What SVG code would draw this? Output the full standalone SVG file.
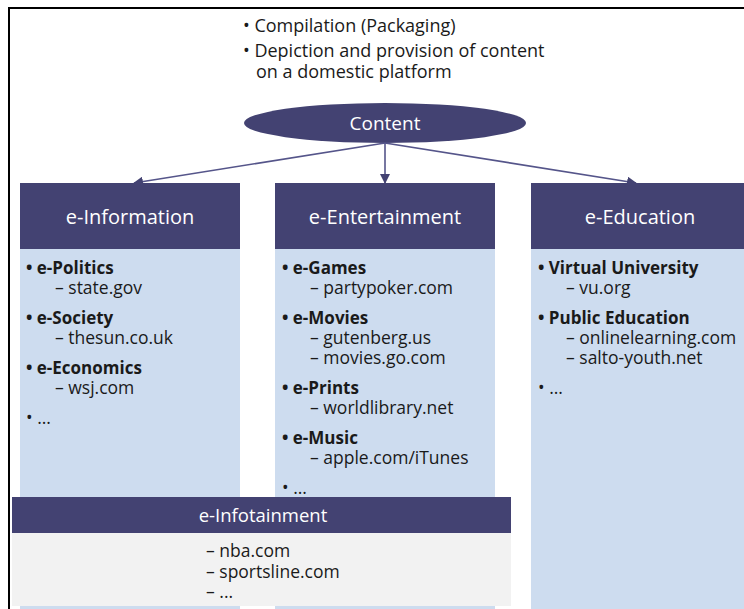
<svg xmlns="http://www.w3.org/2000/svg" width="744" height="609" viewBox="0 0 744 609">
<style>
text{font-family:"Open Sans","Noto Sans","Liberation Sans",sans-serif;fill:#1a1a1a}
.hd{fill:#434272}
.bd{fill:#cddcef}
.ht{fill:#ffffff;font-size:20px;text-anchor:middle}
.b{font-size:17px;font-weight:bold}
.n{font-size:17.5px}
.top{font-size:18px}
.con{stroke:#55558a;stroke-width:1.6;fill:none}
</style>
<defs>
<marker id="ah" viewBox="0 0 10 10" refX="9" refY="5" markerWidth="10" markerHeight="10" orient="auto" markerUnits="userSpaceOnUse">
<path d="M0,0 L10,5 L0,10 z" fill="#434272"/>
</marker>
</defs>
<rect x="0" y="0" width="744" height="609" fill="#ffffff"/>
<rect x="9" y="8" width="800" height="700" fill="none" stroke="#000" stroke-width="2"/>

<g id="notes">
<text class="top" x="243" y="32">• Compilation (Packaging)</text>
<text class="top" x="243" y="57">• Depiction and provision of content</text>
<text class="top" x="256" y="78">on a domestic platform</text>
</g>

<g id="content">
<ellipse cx="385" cy="123" rx="141" ry="20" fill="#434272"/>
<text class="ht" x="385" y="130" style="font-size:19px">Content</text>
</g>

<g id="connectors">
<line class="con" x1="385" y1="143" x2="134" y2="183" marker-end="url(#ah)"/>
<line class="con" x1="385" y1="143" x2="385" y2="183" marker-end="url(#ah)"/>
<line class="con" x1="385" y1="143" x2="636" y2="183" marker-end="url(#ah)"/>
</g>

<g id="e-information">
<rect class="hd" x="20" y="183" width="220" height="66"/>
<rect class="bd" x="20" y="249" width="220" height="360"/>
<text class="ht" x="130" y="224">e-Information</text>
<text class="b" x="26" y="274">• e-Politics</text>
<text class="n" x="55" y="294">– state.gov</text>
<text class="b" x="26" y="324">• e-Society</text>
<text class="n" x="55" y="344">– thesun.co.uk</text>
<text class="b" x="26" y="374">• e-Economics</text>
<text class="n" x="55" y="394">– wsj.com</text>
<text class="n" x="26" y="424">• ...</text>
</g>

<g id="e-entertainment">
<rect class="hd" x="275" y="183" width="220" height="66"/>
<rect class="bd" x="275" y="249" width="220" height="360"/>
<text class="ht" x="385" y="224">e-Entertainment</text>
<text class="b" x="282" y="274">• e-Games</text>
<text class="n" x="310" y="294">– partypoker.com</text>
<text class="b" x="282" y="324">• e-Movies</text>
<text class="n" x="310" y="344">– gutenberg.us</text>
<text class="n" x="310" y="364">– movies.go.com</text>
<text class="b" x="282" y="394">• e-Prints</text>
<text class="n" x="310" y="414">– worldlibrary.net</text>
<text class="b" x="282" y="444">• e-Music</text>
<text class="n" x="310" y="464">– apple.com/iTunes</text>
<text class="n" x="282" y="494">• ...</text>
</g>

<g id="e-education">
<rect class="hd" x="531" y="183" width="220" height="66"/>
<rect class="bd" x="531" y="249" width="220" height="360"/>
<text class="ht" x="640" y="224">e-Education</text>
<text class="b" x="538" y="274">• Virtual University</text>
<text class="n" x="566" y="294">– vu.org</text>
<text class="b" x="538" y="324">• Public Education</text>
<text class="n" x="566" y="344">– onlinelearning.com</text>
<text class="n" x="566" y="364">– salto-youth.net</text>
<text class="n" x="538" y="394">• ...</text>
</g>

<g id="e-infotainment">
<rect class="hd" x="12" y="497" width="499" height="36"/>
<rect x="12" y="533" width="499" height="73" fill="#f2f2f2"/>
<text class="ht" x="263" y="522" style="font-size:18.5px">e-Infotainment</text>
<text class="n" x="206" y="557">– nba.com</text>
<text class="n" x="206" y="578">– sportsline.com</text>
<text class="n" x="206" y="598">– ...</text>
</g>
</svg>
